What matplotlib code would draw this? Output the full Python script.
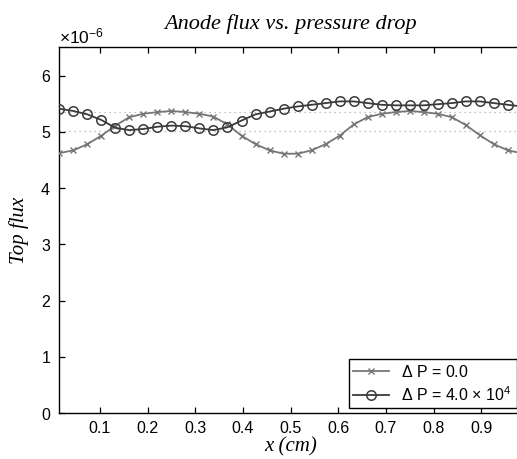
import numpy as np
import matplotlib
matplotlib.use("Agg")
import matplotlib.pyplot as plt
from matplotlib.ticker import ScalarFormatter

plt.rcParams['font.family'] = ['Liberation Sans', 'DejaVu Sans']
plt.rcParams['mathtext.fontset'] = 'custom'
plt.rcParams['mathtext.rm'] = 'Liberation Sans'
plt.rcParams['mathtext.it'] = 'Liberation Sans:italic'

# 34 sample points, cell centres on [0, 1]
x = (np.arange(34) + 0.5) / 34

# flux, in units of 1e-6
flux_dp0 = [4.62, 4.67, 4.78, 4.93, 5.11, 5.26, 5.32, 5.35, 5.37, 5.35, 5.32, 5.27,
            5.13, 4.93, 4.78, 4.67, 4.61, 4.61, 4.67, 4.78, 4.93, 5.13, 5.26, 5.32,
            5.35, 5.37, 5.35, 5.32, 5.26, 5.12, 4.94, 4.78, 4.67, 4.62]
flux_dp4 = [5.41, 5.37, 5.31, 5.21, 5.07, 5.03, 5.05, 5.09, 5.11, 5.10, 5.06, 5.03,
            5.08, 5.20, 5.31, 5.36, 5.41, 5.45, 5.48, 5.51, 5.54, 5.54, 5.51, 5.48,
            5.47, 5.47, 5.47, 5.49, 5.51, 5.54, 5.54, 5.51, 5.48, 5.45]
ref_levels = [5.35, 5.02]

scale = 1e-6

fig = plt.figure(figsize=(5.17, 4.59), dpi=100)
ax = fig.add_axes([0.1147, 0.1002, 0.8946, 0.7965])

for lev in ref_levels:
    ax.axhline(lev * scale, color='#b0b0b0', ls=(0, (1, 3)), lw=0.9, zorder=1)

ax.plot(x, np.array(flux_dp0) * scale, color='#767676', lw=1.3, marker='x',
        ms=4, mew=1.0, label=r'$\Delta$ P = 0.0', zorder=3)
ax.plot(x, np.array(flux_dp4) * scale, color='#3a3a3a', lw=1.3, marker='o',
        ms=6.8, mfc='none', mew=1.1, label=r'$\Delta$ P = 4.0 $\times$ 10$^4$', zorder=4)

ax.set_xlim(x[0], x[-1])
ax.set_ylim(0, 6.5e-6)
ax.set_xticks(np.arange(0.1, 0.95, 0.1))
ax.set_xticklabels(['0.1', '0.2', '0.3', '0.4', '0.5', '0.6', '0.7', '0.8', '0.9'])
ax.set_yticks(np.arange(0, 7) * scale)

fmt = ScalarFormatter(useMathText=True)
fmt.set_powerlimits((0, 0))
ax.yaxis.set_major_formatter(fmt)
ax.yaxis.get_offset_text().set_fontsize(12.5)

ax.tick_params(direction='in', length=4, width=0.9, labelsize=11.5,
               top=True, right=False, pad=6)
for s in ['left', 'top', 'bottom']:
    ax.spines[s].set_linewidth(1.0)
ax.spines['right'].set_visible(False)

serif = dict(family='Liberation Serif', style='italic')
ax.set_title('Anode flux vs. pressure drop', pad=13, size=16, **serif)
ax.set_xlabel('x (cm)', labelpad=1, size=15, **serif)
ax.set_ylabel('Top flux', labelpad=8, size=15, **serif)

leg = ax.legend(loc='lower right', bbox_to_anchor=(516.5 / 517, 50.7 / 459),
                bbox_transform=fig.transFigure, borderaxespad=0, fancybox=False,
                edgecolor='black', fontsize=11.5, handlelength=2.2,
                borderpad=0.3, labelspacing=0.3, framealpha=1)
leg.get_frame().set_linewidth(1.0)

plt.savefig('out.png', dpi=100)
